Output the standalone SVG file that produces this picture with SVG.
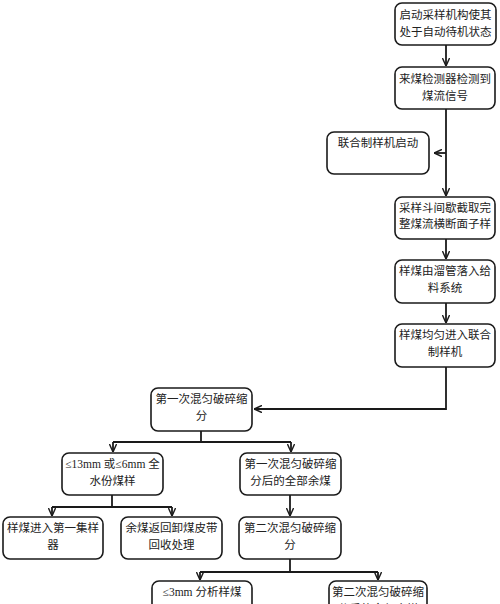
<svg xmlns="http://www.w3.org/2000/svg" width="500" height="604" viewBox="0 0 500 604">
<style>
.box{fill:#fff;stroke:#1a1a1a;stroke-width:1.6}
.t{font-family:"Liberation Serif","Noto Sans CJK SC",serif;font-size:11.5px;fill:#222;text-anchor:middle}
.c{fill:none;stroke:#1a1a1a;stroke-width:1.8}
</style>
<defs>
<marker id="a" viewBox="0 0 10 10" refX="10" refY="5" markerWidth="8" markerHeight="8" markerUnits="userSpaceOnUse" orient="auto">
<path d="M0,0.5 L10,5 L0,9.5" fill="none" stroke="#1a1a1a" stroke-width="1.8"/>
</marker>
</defs>
<rect width="500" height="604" fill="#fff"/>
<g id="connectors">
<line class="c" x1="446" y1="45" x2="446" y2="66" marker-end="url(#a)"/>
<polygon points="436,38 442,38 439,43" fill="#1a1a1a"/>
<line class="c" x1="446" y1="109" x2="446" y2="196" marker-end="url(#a)"/>
<line class="c" x1="446" y1="153" x2="434" y2="153" marker-end="url(#a)"/>
<line class="c" x1="446" y1="239" x2="446" y2="259" marker-end="url(#a)"/>
<line class="c" x1="446" y1="303" x2="446" y2="323" marker-end="url(#a)"/>
<polyline class="c" points="446,367 446,409 254,409" marker-end="url(#a)"/>
<line class="c" x1="201" y1="431" x2="201" y2="442"/>
<line class="c" x1="113" y1="442" x2="291" y2="442"/>
<line class="c" x1="113" y1="442" x2="113" y2="452" marker-end="url(#a)"/>
<line class="c" x1="291" y1="442" x2="291" y2="452" marker-end="url(#a)"/>
<line class="c" x1="112" y1="495" x2="112" y2="507"/>
<line class="c" x1="52" y1="507" x2="172" y2="507"/>
<line class="c" x1="52" y1="507" x2="52" y2="516" marker-end="url(#a)"/>
<line class="c" x1="172" y1="507" x2="172" y2="516" marker-end="url(#a)"/>
<line class="c" x1="290" y1="495" x2="290" y2="516" marker-end="url(#a)"/>
<line class="c" x1="290" y1="559" x2="290" y2="572"/>
<line class="c" x1="200" y1="572" x2="378" y2="572"/>
<line class="c" x1="200" y1="572" x2="200" y2="580" marker-end="url(#a)"/>
<line class="c" x1="378" y1="572" x2="378" y2="580" marker-end="url(#a)"/>
</g>
<g id="n1"><rect class="box" x="395" y="3" width="101" height="42" rx="7"/><text class="t" x="445.5" y="19">启动采样机构使其</text><text class="t" x="445.5" y="36">处于自动待机状态</text></g>
<g id="n2"><rect class="box" x="395" y="67" width="100" height="42" rx="7"/><text class="t" x="445" y="83">来煤检测器检测到</text><text class="t" x="445" y="100">煤流信号</text></g>
<g id="n3"><rect class="box" x="327" y="132" width="102" height="42" rx="7"/><text class="t" x="378" y="147">联合制样机启动</text></g>
<g id="n4"><rect class="box" x="395" y="197" width="100" height="42" rx="7"/><text class="t" x="445" y="212">采样斗间歇截取完</text><text class="t" x="445" y="228">整煤流横断面子样</text></g>
<g id="n5"><rect class="box" x="395" y="260" width="100" height="43" rx="7"/><text class="t" x="445" y="275">样煤由溜管落入给</text><text class="t" x="445" y="292">料系统</text></g>
<g id="n6"><rect class="box" x="395" y="324" width="100" height="43" rx="7"/><text class="t" x="445" y="339">样煤均匀进入联合</text><text class="t" x="445" y="356">制样机</text></g>
<g id="n7"><rect class="box" x="151" y="388" width="101" height="43" rx="7"/><text class="t" x="201.5" y="403">第一次混匀破碎缩</text><text class="t" x="201.5" y="420">分</text></g>
<g id="n8"><rect class="box" x="62" y="453" width="101" height="42" rx="7"/><text class="t" x="112.5" y="468">≤13mm 或≤6mm 全</text><text class="t" x="112.5" y="485">水份煤样</text></g>
<g id="n9"><rect class="box" x="240" y="453" width="101" height="42" rx="7"/><text class="t" x="290.5" y="468">第一次混匀破碎缩</text><text class="t" x="290.5" y="485">分后的全部余煤</text></g>
<g id="n10"><rect class="box" x="3" y="517" width="100" height="42" rx="7"/><text class="t" x="53" y="532">样煤进入第一集样</text><text class="t" x="53" y="549">器</text></g>
<g id="n11"><rect class="box" x="121" y="517" width="101" height="42" rx="7"/><text class="t" x="171.5" y="532">余煤返回卸煤皮带</text><text class="t" x="171.5" y="549">回收处理</text></g>
<g id="n12"><rect class="box" x="239" y="517" width="102" height="42" rx="7"/><text class="t" x="290" y="532">第二次混匀破碎缩</text><text class="t" x="290" y="549">分</text></g>
<g id="n13"><rect class="box" x="152" y="581" width="100" height="42" rx="7"/><text class="t" x="202" y="596">≤3mm 分析样煤</text></g>
<g id="n14"><rect class="box" x="329" y="581" width="98" height="42" rx="7"/><text class="t" x="378" y="596">第二次混匀破碎缩</text><text class="t" x="378" y="613">分后的全部余煤</text></g>
</svg>
